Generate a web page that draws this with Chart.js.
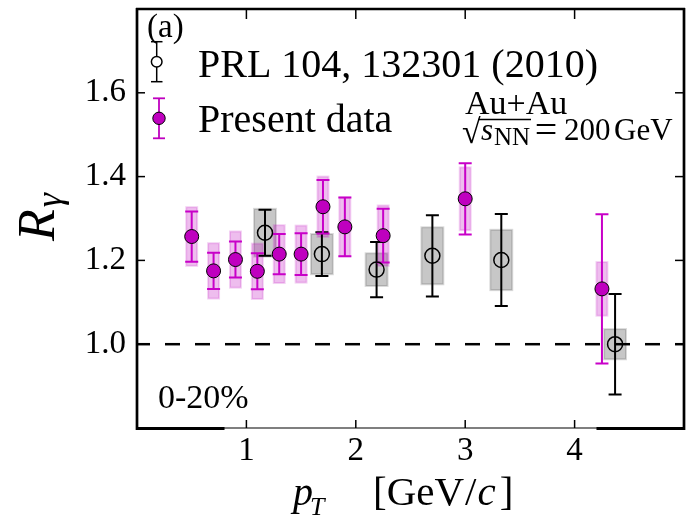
<!DOCTYPE html>
<html>
<head>
<meta charset="utf-8">
<script src="https://cdn.jsdelivr.net/npm/chart.js@4.4.1/dist/chart.umd.min.js"></script>
<style>
  html, body { margin: 0; padding: 0; background: #fff; }
  #wrap { width: 693px; height: 526px; }
</style>
</head>
<body>
<div id="wrap"><canvas id="rgamma" width="693" height="526"></canvas></div>
<script>
// PRL 104, 132301 (2010)
const prlPt   = [1.17, 1.69, 2.19, 2.70, 3.33, 4.37];
const prlR    = [1.266, 1.215, 1.178, 1.211, 1.201, 1.000];
const prlStat = [0.055, 0.052, 0.066, 0.097, 0.110, 0.120];
const prlSys  = [0.057, 0.048, 0.039, 0.068, 0.072, 0.036];

// present data
const newPt   = [0.50, 0.70, 0.90, 1.10, 1.30, 1.50, 1.70, 1.90, 2.25, 3.00, 4.25];
const newR    = [1.257, 1.175, 1.202, 1.174, 1.215, 1.215, 1.328, 1.280, 1.259, 1.347, 1.132];
const newStat = [0.060, 0.043, 0.043, 0.043, 0.048, 0.050, 0.064, 0.070, 0.064, 0.085, 0.178];
const newSys  = [0.070, 0.066, 0.067, 0.066, 0.069, 0.068, 0.072, 0.070, 0.072, 0.075, 0.064];

const xTicks = [1, 2, 3, 4];
const yTicks = [1.0, 1.2, 1.4, 1.6];

const magenta = '#bf00bf';
const serif = '"Liberation Serif", "Times New Roman", serif';

const toPoints = (xs, ys) => xs.map((v, i) => ({ x: v, y: ys[i] }));

// sys boxes, stat bars and the R = 1 line, all under the markers
const errorPlugin = {
  id: 'errors',
  beforeDatasetsDraw(chart) {
    const { ctx, chartArea: a, scales: { x, y } } = chart;
    ctx.save();
    const y1 = y.getPixelForValue(1);
    ctx.strokeStyle = '#000';
    ctx.lineWidth = 2.5;
    ctx.setLineDash([15, 15]);
    ctx.lineDashOffset = 2;
    ctx.beginPath(); ctx.moveTo(a.left, y1); ctx.lineTo(a.right, y1); ctx.stroke();
    ctx.setLineDash([]);

    chart.data.datasets.forEach(ds => {
      ds.data.forEach((p, i) => {
        const l = x.getPixelForValue(p.x - ds.boxHalf);
        const r = x.getPixelForValue(p.x + ds.boxHalf);
        const t = y.getPixelForValue(p.y + ds.sys[i]);
        const b = y.getPixelForValue(p.y - ds.sys[i]);
        ctx.fillStyle = ds.boxFill;
        ctx.strokeStyle = ds.boxEdge;
        ctx.lineWidth = 2;
        ctx.fillRect(l, t, r - l, b - t);
        ctx.strokeRect(l, t, r - l, b - t);
      });
    });

    chart.data.datasets.forEach(ds => {
      ctx.strokeStyle = ds.barColor;
      ctx.lineWidth = 2;
      ds.data.forEach((p, i) => {
        const cx = x.getPixelForValue(p.x);
        const t = y.getPixelForValue(p.y + ds.stat[i]);
        const b = y.getPixelForValue(p.y - ds.stat[i]);
        ctx.beginPath();
        ctx.moveTo(cx, t); ctx.lineTo(cx, b);
        ctx.moveTo(cx - 6.5, t); ctx.lineTo(cx + 6.5, t);
        ctx.moveTo(cx - 6.5, b); ctx.lineTo(cx + 6.5, b);
        ctx.stroke();
      });
    });
    ctx.restore();
  }
};

function seg(ctx, x0, y0, x1, y1) {
  ctx.beginPath(); ctx.moveTo(x0, y0); ctx.lineTo(x1, y1); ctx.stroke();
}

// draw pieces one after another, returns the end x
function run(ctx, parts, x, y) {
  parts.forEach(([txt, font, dy, gap]) => {
    ctx.font = font;
    x += gap || 0;
    ctx.fillText(txt, x, y + (dy || 0));
    x += ctx.measureText(txt).width;
  });
  return x;
}

// frame, inward ticks, titles, legend and labels
const framePlugin = {
  id: 'frame',
  afterDraw(chart) {
    const { ctx, chartArea: a, scales: { x, y } } = chart;
    ctx.save();
    ctx.strokeStyle = '#000';

    ctx.lineWidth = 1.5;
    xTicks.forEach(v => {
      const px = x.getPixelForValue(v);
      seg(ctx, px, a.top, px, a.top + 10);
      seg(ctx, px, a.bottom, px, a.bottom - 8);
    });
    yTicks.forEach(v => {
      const py = y.getPixelForValue(v);
      seg(ctx, a.left, py, a.left + 8, py);
      seg(ctx, a.right, py, a.right - 9, py);
    });

    ctx.lineWidth = 2.7;
    seg(ctx, a.left, a.top - 1, a.left, a.bottom + 2);
    seg(ctx, a.right, a.top - 1, a.right, a.bottom + 2);
    ctx.lineWidth = 2.5;
    seg(ctx, a.left - 1, a.top, a.right + 1, a.top);
    ctx.lineWidth = 1.2;
    seg(ctx, a.left, a.bottom, a.right, a.bottom);
    ctx.lineWidth = 3;
    seg(ctx, a.left - 1, a.bottom + 0.5, x.getPixelForValue(0.8), a.bottom + 0.5);
    seg(ctx, x.getPixelForValue(4.2), a.bottom + 0.5, a.right + 1, a.bottom + 0.5);

    ctx.fillStyle = '#000';
    ctx.textBaseline = 'alphabetic';
    ctx.textAlign = 'left';

    // y title R_gamma
    ctx.save();
    ctx.translate(54, 241);
    ctx.rotate(-Math.PI / 2);
    run(ctx, [
      ['R', 'italic 52px ' + serif],
      ['\u03B3', 'italic 36px ' + serif, 7, 2]
    ], 0, 0);
    ctx.restore();

    // x title p_T [GeV/c]
    run(ctx, [['p', 'italic 40px ' + serif]], 293, 505);
    run(ctx, [['T', 'italic 26px ' + serif]], 310, 515);
    run(ctx, [
      ['[GeV', '41px ' + serif],
      ['/', '41px ' + serif, 0, 1],
      ['c', 'italic 41px ' + serif, 0, 1],
      [']', '41px ' + serif, 0, 4]
    ], 373, 505);

    // panel label and centrality
    ctx.font = '33px ' + serif;
    ctx.fillText('(a)', 147, 37);
    ctx.font = '34px ' + serif;
    ctx.fillText('0-20%', 158, 408);

    // legend
    ctx.strokeStyle = '#000';
    ctx.lineWidth = 1.5;
    seg(ctx, 156.7, 41.7, 156.7, 81.7);
    seg(ctx, 151, 41.7, 162.5, 41.7);
    seg(ctx, 151, 81.7, 162.5, 81.7);
    ctx.fillStyle = '#fff';
    ctx.beginPath(); ctx.arc(156.7, 61.7, 5.3, 0, Math.PI * 2); ctx.fill(); ctx.stroke();

    ctx.strokeStyle = magenta;
    ctx.lineWidth = 1.8;
    seg(ctx, 159, 98.3, 159, 138.3);
    seg(ctx, 153, 98.3, 165, 98.3);
    seg(ctx, 153, 138.3, 165, 138.3);
    ctx.fillStyle = magenta;
    ctx.strokeStyle = '#000';
    ctx.lineWidth = 1;
    ctx.beginPath(); ctx.arc(159, 118.3, 6.2, 0, Math.PI * 2); ctx.fill(); ctx.stroke();

    ctx.fillStyle = '#000';
    ctx.font = '40px ' + serif;
    ctx.fillText('PRL 104, 132301 (2010)', 198, 77);
    ctx.fillText('Present data', 198, 132);

    // collision system
    ctx.font = '34px ' + serif;
    ctx.fillText('Au+Au', 465, 114);
    ctx.font = '34px ' + serif;
    ctx.fillText('\u221A', 462, 143);
    ctx.strokeStyle = '#000';
    ctx.lineWidth = 1.3;
    seg(ctx, 478, 119.5, 531, 119.5);
    ctx.font = 'italic 31px ' + serif;
    ctx.fillText('s', 481, 140);
    ctx.font = '25px ' + serif;
    ctx.fillText('NN', 494, 145);
    ctx.font = '40px ' + serif;
    ctx.textAlign = 'center';
    ctx.fillText('=', 546, 143);
    ctx.textAlign = 'left';
    ctx.font = '31px ' + serif;
    ctx.fillText('200', 564, 140);
    ctx.fillText('GeV', 614, 140);

    ctx.restore();
  }
};

new Chart(document.getElementById('rgamma'), {
  type: 'scatter',
  data: {
    datasets: [
      {
        label: 'PRL 104, 132301 (2010)',
        data: toPoints(prlPt, prlR),
        stat: prlStat,
        sys: prlSys,
        boxHalf: 0.1,
        boxFill: 'rgba(0,0,0,0.22)',
        boxEdge: 'rgba(0,0,0,0.15)',
        barColor: '#000',
        pointStyle: 'circle',
        pointRadius: 7.5,
        pointBackgroundColor: 'rgba(0,0,0,0)',
        pointBorderColor: '#000',
        pointBorderWidth: 1.5
      },
      {
        label: 'Present data',
        data: toPoints(newPt, newR),
        stat: newStat,
        sys: newSys,
        boxHalf: 0.05,
        boxFill: 'rgba(191,0,191,0.26)',
        boxEdge: 'rgba(191,0,191,0.18)',
        barColor: '#c800c8',
        pointStyle: 'circle',
        pointRadius: 7,
        pointBackgroundColor: magenta,
        pointBorderColor: '#000',
        pointBorderWidth: 1
      }
    ]
  },
  options: {
    responsive: false,
    devicePixelRatio: 1,
    animation: false,
    events: [],
    layout: { padding: { top: 5, right: 8, left: 0, bottom: 0 } },
    scales: {
      x: {
        type: 'linear',
        min: 0,
        max: 5,
        grid: { display: false, drawTicks: false },
        border: { display: false },
        afterBuildTicks: s => { s.ticks = xTicks.map(v => ({ value: v })); },
        afterFit: s => { s.height = 98; s.paddingLeft = 0; s.paddingRight = 0; },
        ticks: {
          autoSkip: false,
          maxRotation: 0,
          padding: 4,
          color: '#000',
          font: { family: serif, size: 33 },
          callback: v => String(v)
        }
      },
      y: {
        type: 'linear',
        min: 0.8,
        max: 1.8,
        grid: { display: false, drawTicks: false },
        border: { display: false },
        afterBuildTicks: s => { s.ticks = yTicks.map(v => ({ value: v })); },
        afterFit: s => { s.width = 137; s.paddingTop = 0; s.paddingBottom = 0; },
        ticks: {
          padding: 11,
          color: '#000',
          font: { family: serif, size: 33 },
          callback: v => v.toFixed(1)
        }
      }
    },
    plugins: {
      legend: { display: false },
      tooltip: { enabled: false }
    }
  },
  plugins: [errorPlugin, framePlugin]
});
</script>
</body>
</html>
